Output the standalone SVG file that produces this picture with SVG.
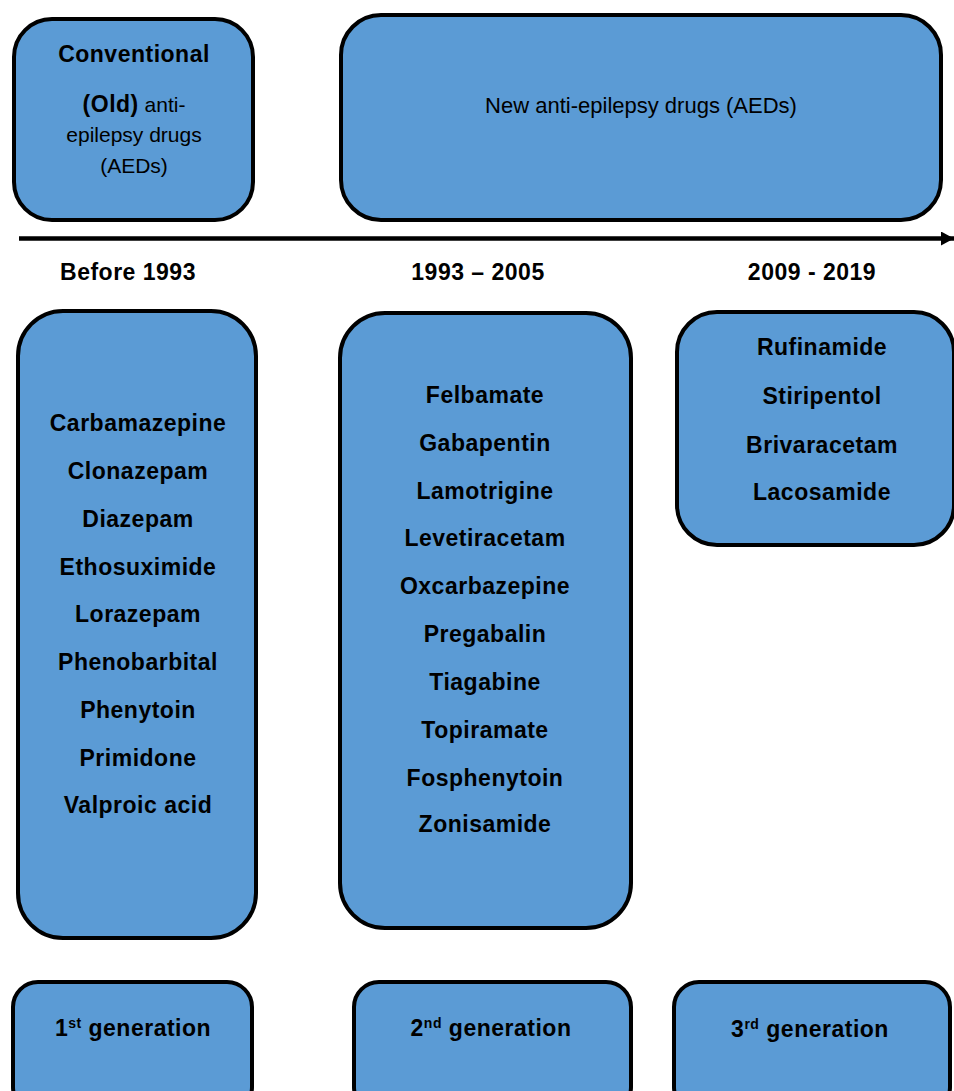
<svg xmlns="http://www.w3.org/2000/svg" width="954" height="1091" viewBox="0 0 954 1091">
<defs>
<style>
.box{fill:#5B9BD5;stroke:#000;stroke-width:4}
.b{font-family:"Liberation Sans",Arial,sans-serif;font-weight:bold;font-size:23px;letter-spacing:0.5px;fill:#000;text-anchor:middle}
.c{font-family:"Liberation Sans",Arial,sans-serif;font-weight:normal;font-size:21px;letter-spacing:0px;fill:#000}
.sup{font-size:14px}
</style>
<marker id="ah" markerWidth="13" markerHeight="14" refX="13" refY="7" orient="auto" markerUnits="userSpaceOnUse">
<path d="M0,0 L13,7 L0,14 Z" fill="#000"/>
</marker>
</defs>
<rect width="954" height="1091" fill="#fff"/>
<g id="connectors">
<line x1="19" y1="238.5" x2="954" y2="238.5" stroke="#000" stroke-width="4.5" marker-end="url(#ah)"/>
</g>
<g id="old-aeds">
<rect class="box" x="14" y="19" width="239" height="201" rx="38"/>
<text class="b" x="134" y="62">Conventional</text>
<text class="b" x="134" y="112">(Old)<tspan class="c"> anti-</tspan></text>
<text class="b c" x="134" y="142" style="text-anchor:middle">epilepsy drugs</text>
<text class="b c" x="134" y="173" style="text-anchor:middle">(AEDs)</text>
</g>
<g id="new-aeds">
<rect class="box" x="341" y="15" width="600" height="205" rx="40"/>
<text class="c" x="641" y="113" style="text-anchor:middle;font-size:22px">New anti-epilepsy drugs (AEDs)</text>
</g>
<g id="labels">
<text class="b" x="128" y="280">Before 1993</text>
<text class="b" x="478" y="280">1993 – 2005</text>
<text class="b" x="812" y="280">2009 - 2019</text>
</g>
<g id="gen1-drugs">
<rect class="box" x="18" y="311" width="238" height="627" rx="45"/>
<text class="b" x="138" y="431">Carbamazepine</text>
<text class="b" x="138" y="479">Clonazepam</text>
<text class="b" x="138" y="527">Diazepam</text>
<text class="b" x="138" y="575">Ethosuximide</text>
<text class="b" x="138" y="622">Lorazepam</text>
<text class="b" x="138" y="670">Phenobarbital</text>
<text class="b" x="138" y="718">Phenytoin</text>
<text class="b" x="138" y="766">Primidone</text>
<text class="b" x="138" y="813">Valproic acid</text>
</g>
<g id="gen2-drugs">
<rect class="box" x="340" y="313" width="291" height="615" rx="45"/>
<text class="b" x="485" y="403">Felbamate</text>
<text class="b" x="485" y="451">Gabapentin</text>
<text class="b" x="485" y="499">Lamotrigine</text>
<text class="b" x="485" y="546">Levetiracetam</text>
<text class="b" x="485" y="594">Oxcarbazepine</text>
<text class="b" x="485" y="642">Pregabalin</text>
<text class="b" x="485" y="690">Tiagabine</text>
<text class="b" x="485" y="738">Topiramate</text>
<text class="b" x="485" y="786">Fosphenytoin</text>
<text class="b" x="485" y="832">Zonisamide</text>
</g>
<g id="gen3-drugs">
<rect class="box" x="677" y="312" width="277" height="233" rx="40"/>
<text class="b" x="822" y="355">Rufinamide</text>
<text class="b" x="822" y="404">Stiripentol</text>
<text class="b" x="822" y="453">Brivaracetam</text>
<text class="b" x="822" y="500">Lacosamide</text>
</g>
<g id="gen1">
<rect class="box" x="13" y="982" width="239" height="130" rx="25"/>
<text class="b" x="133" y="1036">1<tspan class="sup" dy="-8">st</tspan><tspan dy="8"> generation</tspan></text>
</g>
<g id="gen2">
<rect class="box" x="354" y="982" width="277" height="130" rx="25"/>
<text class="b" x="491" y="1036">2<tspan class="sup" dy="-8">nd</tspan><tspan dy="8"> generation</tspan></text>
</g>
<g id="gen3">
<rect class="box" x="674" y="982" width="276" height="130" rx="25"/>
<text class="b" x="810" y="1037">3<tspan class="sup" dy="-8">rd</tspan><tspan dy="8"> generation</tspan></text>
</g>
</svg>
